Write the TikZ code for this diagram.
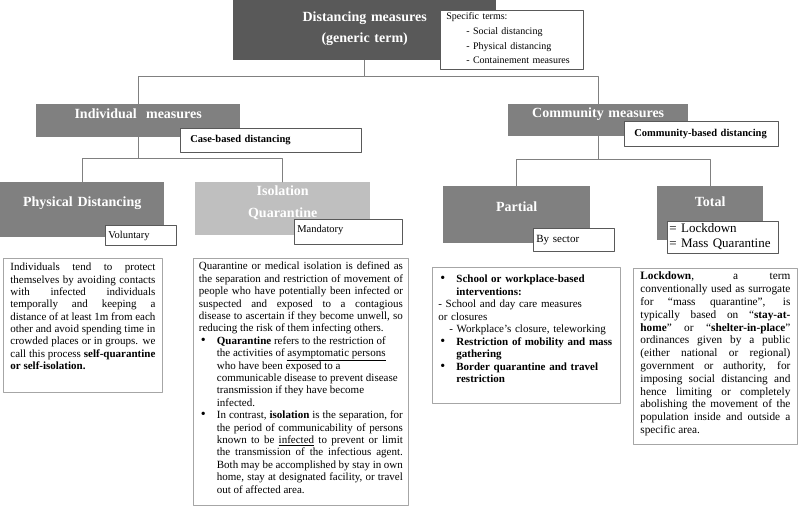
\documentclass[tikz,border=0pt]{standalone}
\usepackage{fontspec}
\setmainfont{Liberation Serif}
\definecolor{boxdark}{HTML}{595959}
\definecolor{boxmid}{HTML}{808080}
\definecolor{boxlight}{HTML}{BFBFBF}
\definecolor{tagline}{HTML}{595959}
\definecolor{noteline}{HTML}{A6A6A6}
\definecolor{linkgray}{HTML}{808080}
\newcommand{\bul}{\noindent\hangindent=18pt\hangafter=1\hbox to 18pt{\hspace{2pt}{\fontsize{14}{14}\selectfont\textbullet}\hfil}\ignorespaces}
\newcommand{\itm}{\par\bul}

\begin{document}
\begin{tikzpicture}[x=1pt,y=-1pt,line cap=round,line join=round,
	title/.style={anchor=north west,inner sep=0pt,align=center,text=white,font=\bfseries\fontsize{14}{21}\selectfont},
	tag/.style={anchor=north west,inner ysep=0pt,fill=white,draw=tagline,line width=.8pt,align=left,font=\fontsize{10.5}{14}\selectfont},
	note/.style={anchor=north west,inner ysep=0pt,fill=white,draw=noteline,line width=.8pt,font=\fontsize{11}{12.3}\selectfont,execute at begin node={\tolerance=10000\relax}},
	link/.style={draw=linkgray,line width=.8pt}]
	\useasboundingbox (0,0) rectangle (800,509);
	% top level
	\node[title,fill=boxdark,text width=263pt,text height=21.3pt,text depth=38.7pt] (dist) at (233,0) {Distancing measures\\(generic term)};
	\node[tag,inner xsep=6pt,text width=131pt,text height=9.3pt,text depth=49.7pt,font=\fontsize{10}{14.7}\selectfont] (terms) at (440,10) {Specific terms:\\\hspace*{20pt}- Social distancing\\\hspace*{20pt}- Physical distancing\\\hspace*{20pt}- Containement measures};
	% second level
	\node[title,fill=boxmid,text width=204pt,text height=14.3pt,text depth=18.7pt] (indiv) at (36,104) {Individual\ \ measures};
	\node[tag,inner xsep=10pt,text width=161pt,text height=14.5pt,text depth=9.5pt,font=\bfseries\fontsize{10.5}{14}\selectfont] (casebased) at (180,128) {Case-based distancing};
	\node[title,fill=boxmid,text width=180pt,text height=13.3pt,text depth=18.7pt] (comm) at (508,104) {Community measures};
	\node[tag,inner xsep=10pt,text width=134pt,text height=15.5pt,text depth=9.5pt,font=\bfseries\fontsize{10.5}{14}\selectfont] (commbased) at (624,121) {Community-based distancing};
	% third level
	\node[title,fill=boxmid,text width=164pt,text height=24.3pt,text depth=30.7pt] (phys) at (0,182) {Physical Distancing};
	\node[tag,inner xsep=3pt,text width=65pt,text height=13.3pt,text depth=6.7pt] (vol) at (105,225) {Voluntary};
	\node[title,fill=boxlight,text width=175pt,text height=13.3pt,text depth=39.7pt,font=\bfseries\fontsize{14}{22}\selectfont] (iso) at (195,182) {Isolation\\Quarantine};
	\node[tag,inner xsep=3pt,text width=102pt,text height=13.3pt,text depth=11.7pt] (mand) at (294,219) {Mandatory};
	\node[title,fill=boxmid,text width=147pt,text height=25.3pt,text depth=31.7pt] (partial) at (443,186) {Partial};
	\node[tag,inner xsep=3pt,text width=75pt,text height=14.5pt,text depth=8.5pt,font=\fontsize{11}{14}\selectfont] (sector) at (533,228) {By sector};
	\node[title,fill=boxmid,text width=106pt,text height=20.3pt,text depth=33.7pt] (total) at (657,186) {Total};
	\node[tag,inner xsep=2pt,text width=107pt,text height=11pt,text depth=21pt,font=\fontsize{13}{15}\selectfont] (lock) at (667,221) {= Lockdown\\= Mass Quarantine};
	% text boxes
	\node[note,align=justify,inner xsep=7pt,text width=145pt,text height=12.5pt,text depth=121.5pt] (physnote) at (3,258) {Individuals tend to protect\linebreak
		themselves by avoiding contacts\linebreak
		with infected individuals\linebreak
		temporally and keeping a\linebreak
		distance of at least 1m from each\linebreak
		other and avoid spending time in\linebreak
		crowded places or in groups. we\linebreak
		call this process \textbf{self-quarantine}\linebreak
		\textbf{or self-isolation.}\par};
	\node[note,align=justify,inner xsep=5.5pt,text width=204pt,text height=11.5pt,text depth=235.5pt,font=\fontsize{11}{12.4}\selectfont] (isonote) at (193,258) {Quarantine or medical isolation is defined as\linebreak
		the separation and restriction of movement of\linebreak
		people who have potentially been infected or\linebreak
		suspected and exposed to a contagious\linebreak
		disease to ascertain if they become unwell, so\linebreak
		reducing the risk of them infecting others.
		\itm \textbf{Quarantine} refers to the restriction of\newline
		the activities of \underline{asymptomatic persons}\newline
		who have been exposed to a\newline
		communicable disease to prevent disease\newline
		transmission if they have become\newline
		infected.
		\itm In contrast, \textbf{isolation} is the separation, for\linebreak
		the period of communicability of persons\linebreak
		known to be \underline{infected} to prevent or limit\linebreak
		the transmission of the infectious agent.\linebreak
		Both may be accomplished by stay in own\linebreak
		home, stay at designated facility, or travel\linebreak
		out of affected area.\par};
	\node[note,align=left,inner xsep=6pt,text width=176pt,text height=15.5pt,text depth=120.5pt,font=\fontsize{11}{12.5}\selectfont] (partnote) at (432,267) {\bul \textbf{School or workplace-based}\newline\textbf{interventions:}
		\par\noindent - School and day care measures\newline or closures
		\par\noindent\hspace*{11pt}- Workplace’s closure, teleworking
		\itm \textbf{Restriction of mobility and mass}\newline\textbf{gathering}
		\itm \textbf{Border quarantine and travel}\newline\textbf{restriction}\par};
	\node[note,align=justify,inner xsep=7pt,text width=150pt,text height=11.5pt,text depth=164.5pt,font=\fontsize{11.3}{12.8}\selectfont] (locknote) at (633,268) {\textbf{Lockdown}, a term\linebreak
		conventionally used as surrogate\linebreak
		for “mass quarantine”, is\linebreak
		typically based on “\textbf{stay-at-}\linebreak
		\textbf{home}” or “\textbf{shelter-in-place}”\linebreak
		ordinances given by a public\linebreak
		(either national or regional)\linebreak
		government or authority, for\linebreak
		imposing social distancing and\linebreak
		hence limiting or completely\linebreak
		abolishing the movement of the\linebreak
		population inside and outside a\linebreak
		specific area.\par};
	% connectors
	\draw[link] (dist.south) -- ++(0,16) coordinate (top) -| (indiv.north);
	\draw[link] (top) -| (comm.north);
	\draw[link] (indiv.south) -- ++(0,21) coordinate (left) -| (phys.north);
	\draw[link] (left) -| (iso.north);
	\draw[link] (comm.south) -- ++(0,23) coordinate (right) -| (partial.north);
	\draw[link] (right) -| (total.north);
\end{tikzpicture}
\end{document}
